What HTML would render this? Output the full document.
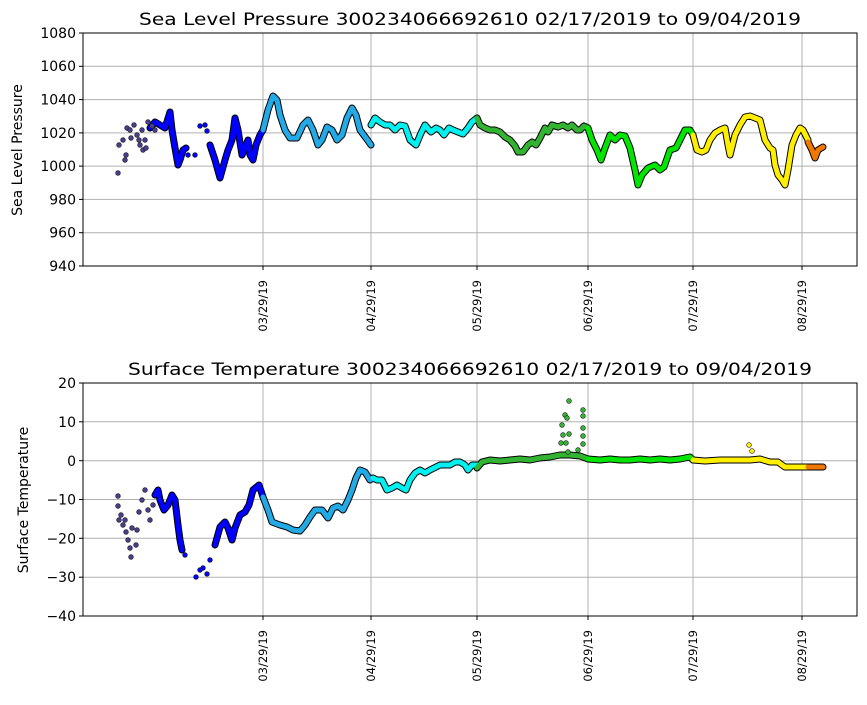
<!DOCTYPE html>
<html><head><meta charset="utf-8"><style>
html,body{margin:0;padding:0;background:#fff}
svg text{font-family:"DejaVu Sans","Liberation Sans",sans-serif;fill:#000}
</style></head><body>
<svg width="867" height="700" viewBox="0 0 867 700" xmlns="http://www.w3.org/2000/svg">
<rect width="867" height="700" fill="#fff"/>
<!-- TOP -->
<g stroke="#b0b0b0" stroke-width="1">
<line x1="263" y1="33" x2="263" y2="266"/><line x1="371" y1="33" x2="371" y2="266"/><line x1="477" y1="33" x2="477" y2="266"/><line x1="588" y1="33" x2="588" y2="266"/><line x1="693" y1="33" x2="693" y2="266"/><line x1="802" y1="33" x2="802" y2="266"/>
<line x1="83" y1="66.3" x2="857" y2="66.3"/><line x1="83" y1="99.6" x2="857" y2="99.6"/><line x1="83" y1="132.9" x2="857" y2="132.9"/><line x1="83" y1="166.1" x2="857" y2="166.1"/><line x1="83" y1="199.4" x2="857" y2="199.4"/><line x1="83" y1="232.7" x2="857" y2="232.7"/>
</g>
<g fill="none" stroke-linejoin="round" stroke-linecap="round">
<g stroke="#000" stroke-width="7">
<polyline points="150,128 155,122 160,125 165,128 170,112 172,130 175,148 178,165 180,160 183,150 186,148"/>
<polyline points="210,145 215,160 220,178 225,160 228,150 232,140 235,118 238,130 242,155 245,148 248,140 250,155 253,160 256,145 260,135 263,130"/>
<polyline points="263,130 268,110 273,96 277,100 280,115 285,130 290,138 297,138 303,125 308,120 313,130 318,145 322,140 327,127 332,130 337,140 342,135 347,118 352,108 356,115 360,130 366,138 371,145"/>
<polyline points="371,125 375,118 380,122 385,125 390,125 395,130 400,125 405,126 410,140 416,145 421,133 425,125 431,132 436,128 440,130 444,135 449,128 453,130 458,132 463,134 468,128 472,122 477,118"/>
<polyline points="477,118 480,125 485,128 490,130 495,130 500,132 505,137 510,140 515,146 518,152 523,152 528,145 532,142 536,145 540,138 545,128 548,132 552,125 558,127 563,125 568,128 572,125 577,130 580,130 584,126 588,128"/>
<polyline points="588,128 592,140 597,150 601,160 605,148 610,135 615,140 620,135 625,136 630,148 635,170 638,185 642,175 648,168 655,165 660,170 664,167 670,150 676,148 680,140 685,130 690,130 693,135"/>
<polyline points="693,135 697,150 702,152 706,150 710,140 715,133 720,130 725,128 728,145 730,155 735,135 740,125 745,117 750,116 755,118 760,120 765,140 770,148 773,150 775,165 778,175 782,180 785,185 788,170 792,145 796,135 800,128 803,130 808,140"/>
<polyline points="808,142 812,150 815,158 818,150 823,147"/>
</g>
<g stroke-width="5">
<polyline stroke="#0000ff" points="150,128 155,122 160,125 165,128 170,112 172,130 175,148 178,165 180,160 183,150 186,148"/>
<polyline stroke="#0000ff" points="210,145 215,160 220,178 225,160 228,150 232,140 235,118 238,130 242,155 245,148 248,140 250,155 253,160 256,145 260,135 263,130"/>
<polyline stroke="#22aae6" points="263,130 268,110 273,96 277,100 280,115 285,130 290,138 297,138 303,125 308,120 313,130 318,145 322,140 327,127 332,130 337,140 342,135 347,118 352,108 356,115 360,130 366,138 371,145"/>
<polyline stroke="#00f0f0" points="371,125 375,118 380,122 385,125 390,125 395,130 400,125 405,126 410,140 416,145 421,133 425,125 431,132 436,128 440,130 444,135 449,128 453,130 458,132 463,134 468,128 472,122 477,118"/>
<polyline stroke="#32b432" points="477,118 480,125 485,128 490,130 495,130 500,132 505,137 510,140 515,146 518,152 523,152 528,145 532,142 536,145 540,138 545,128 548,132 552,125 558,127 563,125 568,128 572,125 577,130 580,130 584,126 588,128"/>
<polyline stroke="#00e600" points="588,128 592,140 597,150 601,160 605,148 610,135 615,140 620,135 625,136 630,148 635,170 638,185 642,175 648,168 655,165 660,170 664,167 670,150 676,148 680,140 685,130 690,130 693,135"/>
<polyline stroke="#ffee00" points="693,135 697,150 702,152 706,150 710,140 715,133 720,130 725,128 728,145 730,155 735,135 740,125 745,117 750,116 755,118 760,120 765,140 770,148 773,150 775,165 778,175 782,180 785,185 788,170 792,145 796,135 800,128 803,130 808,140"/>
<polyline stroke="#f07800" points="808,142 812,150 815,158 818,150 823,147"/>
</g>
</g>
<g fill="#483d8b" stroke="#222" stroke-width="0.6">
<circle cx="118" cy="173" r="2.4"/><circle cx="119" cy="145" r="2.4"/><circle cx="123" cy="140" r="2.4"/><circle cx="125" cy="160" r="2.4"/><circle cx="126" cy="155" r="2.4"/><circle cx="127" cy="128" r="2.4"/><circle cx="130" cy="130" r="2.4"/><circle cx="131" cy="138" r="2.4"/><circle cx="134" cy="125" r="2.4"/><circle cx="137" cy="135" r="2.4"/><circle cx="139" cy="140" r="2.4"/><circle cx="140" cy="145" r="2.4"/><circle cx="142" cy="130" r="2.4"/><circle cx="143" cy="150" r="2.4"/><circle cx="145" cy="140" r="2.4"/><circle cx="146" cy="148" r="2.4"/><circle cx="148" cy="122" r="2.4"/><circle cx="152" cy="126" r="2.4"/><circle cx="155" cy="130" r="2.4"/>
</g>
<g fill="#0000ff" stroke="#222" stroke-width="0.6">
<circle cx="195" cy="155" r="2.4"/><circle cx="200" cy="126" r="2.4"/><circle cx="205" cy="125" r="2.4"/><circle cx="207" cy="131" r="2.4"/><circle cx="188" cy="155" r="2.4"/>
</g>
<rect x="83" y="33" width="774" height="233" fill="none" stroke="#000" stroke-width="1"/>
<g font-size="14" text-anchor="end">
<text x="76" y="38">1080</text><text x="76" y="71">1060</text><text x="76" y="104.5">1040</text><text x="76" y="138">1020</text><text x="76" y="171">1000</text><text x="76" y="204.5">980</text><text x="76" y="237.5">960</text><text x="76" y="271">940</text>
</g>
<g stroke="#000"><line x1="79" y1="33" x2="83" y2="33"/><line x1="79" y1="66.3" x2="83" y2="66.3"/><line x1="79" y1="99.6" x2="83" y2="99.6"/><line x1="79" y1="132.9" x2="83" y2="132.9"/><line x1="79" y1="166.1" x2="83" y2="166.1"/><line x1="79" y1="199.4" x2="83" y2="199.4"/><line x1="79" y1="232.7" x2="83" y2="232.7"/><line x1="79" y1="266" x2="83" y2="266"/></g>
<text x="22" y="150" font-size="14" text-anchor="middle" transform="rotate(-90 22 150)">Sea Level Pressure</text>
<text x="139" y="25" font-size="17" textLength="662" lengthAdjust="spacingAndGlyphs">Sea Level Pressure 300234066692610  02/17/2019 to 09/04/2019</text>
<g font-size="11.5" text-anchor="end">
<text transform="translate(267,280) rotate(-90)">03/29/19</text>
<text transform="translate(375,280) rotate(-90)">04/29/19</text>
<text transform="translate(481,280) rotate(-90)">05/29/19</text>
<text transform="translate(592,280) rotate(-90)">06/29/19</text>
<text transform="translate(697,280) rotate(-90)">07/29/19</text>
<text transform="translate(806,280) rotate(-90)">08/29/19</text>
</g>
<g stroke="#000"><line x1="263" y1="266" x2="263" y2="270"/><line x1="371" y1="266" x2="371" y2="270"/><line x1="477" y1="266" x2="477" y2="270"/><line x1="588" y1="266" x2="588" y2="270"/><line x1="693" y1="266" x2="693" y2="270"/><line x1="802" y1="266" x2="802" y2="270"/></g>

<!-- BOTTOM -->
<g stroke="#b0b0b0" stroke-width="1">
<line x1="263" y1="383" x2="263" y2="616"/><line x1="371" y1="383" x2="371" y2="616"/><line x1="477" y1="383" x2="477" y2="616"/><line x1="588" y1="383" x2="588" y2="616"/><line x1="693" y1="383" x2="693" y2="616"/><line x1="802" y1="383" x2="802" y2="616"/>
<line x1="83" y1="421.8" x2="857" y2="421.8"/><line x1="83" y1="460.7" x2="857" y2="460.7"/><line x1="83" y1="499.5" x2="857" y2="499.5"/><line x1="83" y1="538.3" x2="857" y2="538.3"/><line x1="83" y1="577.2" x2="857" y2="577.2"/>
</g>
<g fill="none" stroke-linejoin="round" stroke-linecap="round">
<g stroke="#000" stroke-width="7">
<polyline points="155,495 158,490 160,500 164,510 168,505 172,495 175,500 178,525 180,540 182,550"/>
<polyline points="215,545 220,527 225,522 228,528 232,540 235,528 240,515 245,512 249,505 253,490 259,485 263,497"/>
<polyline points="263,497 268,510 272,522 280,525 287,527 293,530 300,531 305,525 310,517 315,510 322,510 328,518 333,508 338,506 343,510 348,500 352,490 356,478 360,470 365,472 370,480 373,478"/>
<polyline points="373,478 377,480 382,480 387,490 392,488 397,485 402,488 406,490 410,480 415,473 420,470 425,473 430,470 436,467 440,465 445,465 450,465 455,462 460,462 465,465 468,470 472,465 477,465"/>
<polyline points="477,468 482,462 490,460 500,461 510,460 520,459 530,460 540,458 550,457 560,455 570,455 580,456 588,459"/>
<polyline points="588,459 600,460 610,459 620,460 630,460 640,459 650,460 660,459 670,460 680,459 690,457 693,460"/>
<polyline points="693,460 705,461 720,460 735,460 750,460 760,459 770,462 778,462 782,465 785,467 808,467"/>
<polyline points="808,467 823,467"/>
</g>
<g stroke-width="5">
<polyline stroke="#0000ff" points="155,495 158,490 160,500 164,510 168,505 172,495 175,500 178,525 180,540 182,550"/>
<polyline stroke="#0000ff" points="215,545 220,527 225,522 228,528 232,540 235,528 240,515 245,512 249,505 253,490 259,485 263,497"/>
<polyline stroke="#22aae6" points="263,497 268,510 272,522 280,525 287,527 293,530 300,531 305,525 310,517 315,510 322,510 328,518 333,508 338,506 343,510 348,500 352,490 356,478 360,470 365,472 370,480 373,478"/>
<polyline stroke="#00f0f0" points="373,478 377,480 382,480 387,490 392,488 397,485 402,488 406,490 410,480 415,473 420,470 425,473 430,470 436,467 440,465 445,465 450,465 455,462 460,462 465,465 468,470 472,465 477,465"/>
<polyline stroke="#32b432" points="477,468 482,462 490,460 500,461 510,460 520,459 530,460 540,458 550,457 560,455 570,455 580,456 588,459"/>
<polyline stroke="#00e600" points="588,459 600,460 610,459 620,460 630,460 640,459 650,460 660,459 670,460 680,459 690,457 693,460"/>
<polyline stroke="#ffee00" points="693,460 705,461 720,460 735,460 750,460 760,459 770,462 778,462 782,465 785,467 808,467"/>
<polyline stroke="#f07800" points="808,467 823,467"/>
</g>
</g>
<g fill="#483d8b" stroke="#222" stroke-width="0.6">
<circle cx="118" cy="496" r="2.4"/><circle cx="118" cy="506" r="2.4"/><circle cx="119" cy="520" r="2.4"/><circle cx="121" cy="515" r="2.4"/><circle cx="123" cy="525" r="2.4"/><circle cx="125" cy="520" r="2.4"/><circle cx="126" cy="532" r="2.4"/><circle cx="128" cy="540" r="2.4"/><circle cx="130" cy="548" r="2.4"/><circle cx="131" cy="557" r="2.4"/><circle cx="132" cy="528" r="2.4"/><circle cx="136" cy="545" r="2.4"/><circle cx="137" cy="530" r="2.4"/><circle cx="139" cy="512" r="2.4"/><circle cx="142" cy="500" r="2.4"/><circle cx="145" cy="490" r="2.4"/><circle cx="148" cy="510" r="2.4"/><circle cx="150" cy="520" r="2.4"/><circle cx="153" cy="505" r="2.4"/>
</g>
<g fill="#0000ff" stroke="#222" stroke-width="0.6">
<circle cx="196" cy="577" r="2.4"/><circle cx="200" cy="570" r="2.4"/><circle cx="203" cy="568" r="2.4"/><circle cx="207" cy="574" r="2.4"/><circle cx="210" cy="560" r="2.4"/><circle cx="185" cy="555" r="2.4"/>
</g>
<g fill="#32b432" stroke="#222" stroke-width="0.6">
<circle cx="569" cy="401" r="2.4"/><circle cx="565" cy="415" r="2.4"/><circle cx="567" cy="418" r="2.4"/><circle cx="562" cy="425" r="2.4"/><circle cx="563" cy="435" r="2.4"/><circle cx="561" cy="443" r="2.4"/><circle cx="566" cy="443" r="2.4"/><circle cx="569" cy="434" r="2.4"/><circle cx="568" cy="452" r="2.4"/><circle cx="583" cy="410" r="2.4"/><circle cx="583" cy="416" r="2.4"/><circle cx="583" cy="428" r="2.4"/><circle cx="583" cy="436" r="2.4"/><circle cx="583" cy="444" r="2.4"/><circle cx="578" cy="450" r="2.4"/>
</g>
<g fill="#ffee00" stroke="#222" stroke-width="0.6"><circle cx="749" cy="445" r="2.4"/><circle cx="752" cy="451" r="2.4"/></g>
<rect x="83" y="383" width="774" height="233" fill="none" stroke="#000" stroke-width="1"/>
<g font-size="14" text-anchor="end">
<text x="76" y="388">20</text><text x="76" y="427">10</text><text x="76" y="466">0</text><text x="76" y="504.5">−10</text><text x="76" y="543.5">−20</text><text x="76" y="582">−30</text><text x="76" y="621">−40</text>
</g>
<g stroke="#000"><line x1="79" y1="383" x2="83" y2="383"/><line x1="79" y1="421.8" x2="83" y2="421.8"/><line x1="79" y1="460.7" x2="83" y2="460.7"/><line x1="79" y1="499.5" x2="83" y2="499.5"/><line x1="79" y1="538.3" x2="83" y2="538.3"/><line x1="79" y1="577.2" x2="83" y2="577.2"/><line x1="79" y1="616" x2="83" y2="616"/></g>
<text x="28" y="500" font-size="14" text-anchor="middle" transform="rotate(-90 28 500)">Surface Temperature</text>
<text x="128" y="375" font-size="17" textLength="684" lengthAdjust="spacingAndGlyphs">Surface Temperature 300234066692610  02/17/2019 to 09/04/2019</text>
<g font-size="11.5" text-anchor="end">
<text transform="translate(267,630) rotate(-90)">03/29/19</text>
<text transform="translate(375,630) rotate(-90)">04/29/19</text>
<text transform="translate(481,630) rotate(-90)">05/29/19</text>
<text transform="translate(592,630) rotate(-90)">06/29/19</text>
<text transform="translate(697,630) rotate(-90)">07/29/19</text>
<text transform="translate(806,630) rotate(-90)">08/29/19</text>
</g>
<g stroke="#000"><line x1="263" y1="616" x2="263" y2="620"/><line x1="371" y1="616" x2="371" y2="620"/><line x1="477" y1="616" x2="477" y2="620"/><line x1="588" y1="616" x2="588" y2="620"/><line x1="693" y1="616" x2="693" y2="620"/><line x1="802" y1="616" x2="802" y2="620"/></g>
</svg>
</body></html>
